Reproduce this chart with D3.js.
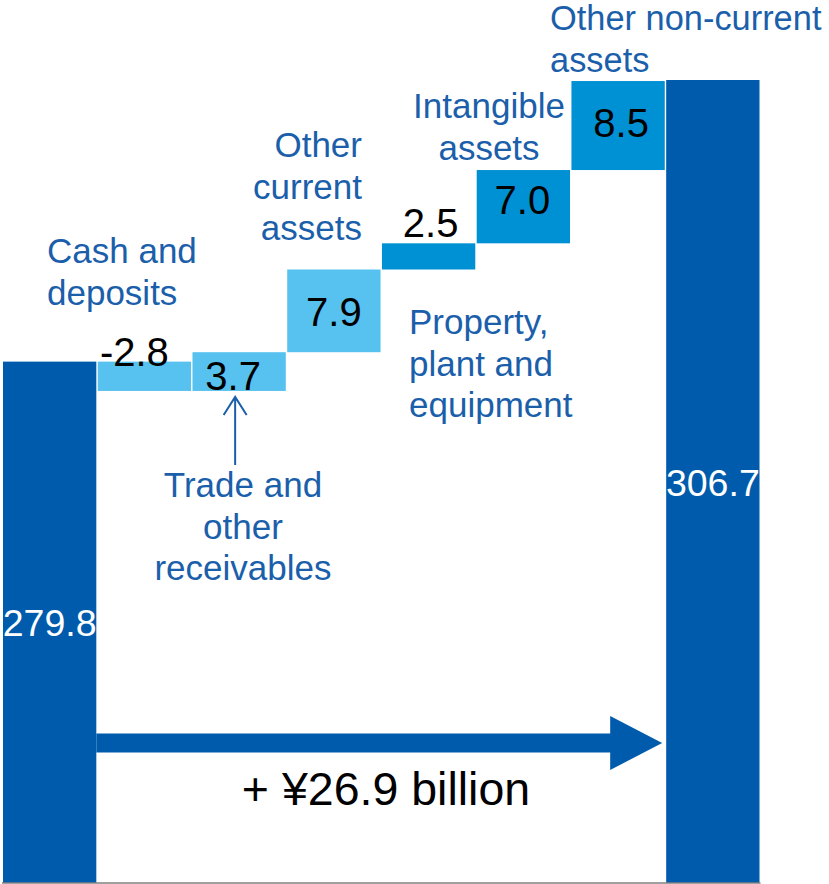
<!DOCTYPE html>
<html>
<head>
<meta charset="utf-8">
<script src="https://cdn.jsdelivr.net/npm/d3@7/dist/d3.min.js"></script>
<style>
  html, body { margin: 0; padding: 0; background: #fff; }
  svg { display: block; font-family: "Liberation Sans", Arial, sans-serif; }
</style>
</head>
<body>
<svg id="chart" width="829" height="884"></svg>
<script>
// Total assets bridge (¥ billion)
const startLabel = "Start";
const endLabel = "End";
const startValue = 279.8;
const endValue = 306.7;
const changeNames = [
  "Cash and deposits",
  "Trade and other receivables",
  "Other current assets",
  "Property, plant and equipment",
  "Intangible assets",
  "Other non-current assets"
];
const changeValues = [-2.8, 3.7, 7.9, 2.5, 7.0, 8.5];
const changeGroups = ["current", "current", "current", "noncurrent", "noncurrent", "noncurrent"];
const totalChangeText = "+ ¥26.9 billion";

// Multi-line category captions
const captionLines = [
  ["Cash and", "deposits"],
  ["Trade and", "other", "receivables"],
  ["Other", "current", "assets"],
  ["Property,", "plant and", "equipment"],
  ["Intangible", "assets"],
  ["Other non-current", "assets"]
];

const colors = {
  total: "#005bac",
  current: "#57c1ef",
  noncurrent: "#0090d4",
  caption: "#1b5fab",
  axis: "#7f7f7f"
};

const svg = d3.select("#chart");
const categories = [startLabel, ...changeNames, endLabel];

const x = d3.scaleBand().domain(categories).range([3, 759.5]).paddingInner(0.015).paddingOuter(0);
const y = d3.scaleLinear().domain([230, endValue]).range([883, 80]);

// Build waterfall steps
let running = startValue;
const steps = [{ name: startLabel, y0: 230, y1: startValue, value: startValue, kind: "total" }];
changeNames.forEach((n, i) => {
  const v = changeValues[i];
  const a = running, b = running + v;
  steps.push({ name: n, y0: Math.min(a, b), y1: Math.max(a, b), value: v, kind: changeGroups[i] });
  running = b;
});
steps.push({ name: endLabel, y0: 230, y1: endValue, value: endValue, kind: "total" });

svg.append("g").selectAll("rect").data(steps).join("rect")
  .attr("x", d => x(d.name))
  .attr("width", x.bandwidth())
  .attr("y", d => y(d.y1))
  .attr("height", d => y(d.y0) - y(d.y1))
  .attr("fill", d => colors[d.kind]);

// Baseline
svg.append("line")
  .attr("x1", 2).attr("x2", x(endLabel) + x.bandwidth() + 1)
  .attr("y1", y(230)).attr("y2", y(230))
  .attr("stroke", colors.axis).attr("stroke-width", 1.5);

// Value labels (plain hyphen for negatives)
const fmt = v => (v < 0 ? "-" : "") + Math.abs(v).toFixed(1);
const cx = d => x(d.name) + x.bandwidth() / 2;
const labels = svg.append("g");

// Totals: white, centred in the bar
steps.filter(d => d.kind === "total").forEach(d => {
  labels.append("text")
    .attr("x", cx(d)).attr("y", (y(d.y0) + y(d.y1)) / 2 + 14)
    .attr("text-anchor", "middle").attr("fill", "#fff")
    .attr("font-size", 37.5).text(fmt(d.value));
});

// Changes: black numbers
const changeLabelPlacement = [
  d => ({ dx: -10, y: y(d.y1) + 4 }),        // sits over the top edge
  d => ({ dx: -6, y: y(d.y0) - 1 }),         // bottom-aligned in the bar
  d => ({ dx: 0, y: (y(d.y0) + y(d.y1)) / 2 + 15 }),
  d => ({ dx: 2, y: y(d.y1) - 6 }),          // above the thin bar
  d => ({ dx: -1, y: (y(d.y0) + y(d.y1)) / 2 + 7 }),
  d => ({ dx: 3, y: (y(d.y0) + y(d.y1)) / 2 + 11 })
];
steps.slice(1, -1).forEach((d, i) => {
  const p = changeLabelPlacement[i](d);
  labels.append("text")
    .attr("x", cx(d) + p.dx).attr("y", p.y)
    .attr("text-anchor", "middle").attr("fill", "#000")
    .attr("font-size", 40).text(fmt(d.value));
});

// Category captions
const captionPlacement = [
  { anchor: "start", x: 47, y: 263, size: 35 },
  { anchor: "middle", x: 243, y: 497, size: 35 },
  { anchor: "end", x: 362, y: 157, size: 35 },
  { anchor: "start", x: 409, y: 334, size: 35 },
  { anchor: "middle", x: 489, y: 118, size: 35 },
  { anchor: "start", x: 550, y: 30, size: 34.4 }
];
const lineGap = 41.6;
captionLines.forEach((lines, i) => {
  const p = captionPlacement[i];
  const t = svg.append("text")
    .attr("text-anchor", p.anchor).attr("fill", colors.caption)
    .attr("font-size", p.size);
  lines.forEach((ln, j) => {
    t.append("tspan").attr("x", p.x).attr("y", p.y + j * lineGap).text(ln);
  });
});

// Pointer from the receivables caption up to its bar
const recv = steps[2];
const px = cx(recv) - 4;
const tipY = y(recv.y0) + 6;
svg.append("path")
  .attr("d", `M${px},465 L${px},${tipY} M${px - 11.5},${tipY + 18} L${px},${tipY} L${px + 11.5},${tipY + 18}`)
  .attr("fill", "none").attr("stroke", colors.caption).attr("stroke-width", 2);

// Overall change arrow between the two totals
const ax0 = x(startLabel) + x.bandwidth();
const axTip = x(endLabel) - 4;
const headLen = 52;
const ay = 743, shaftH = 19, headH = 54;
svg.append("path")
  .attr("d", [
    `M${ax0},${ay - shaftH / 2}`,
    `L${axTip - headLen},${ay - shaftH / 2}`,
    `L${axTip - headLen},${ay - headH / 2}`,
    `L${axTip},${ay}`,
    `L${axTip - headLen},${ay + headH / 2}`,
    `L${axTip - headLen},${ay + shaftH / 2}`,
    `L${ax0},${ay + shaftH / 2}`, "Z"
  ].join(" "))
  .attr("fill", colors.total);

svg.append("text")
  .attr("x", 386).attr("y", 805)
  .attr("text-anchor", "middle").attr("fill", "#000")
  .attr("font-size", 46.5).text(totalChangeText);
</script>
</body>
</html>
